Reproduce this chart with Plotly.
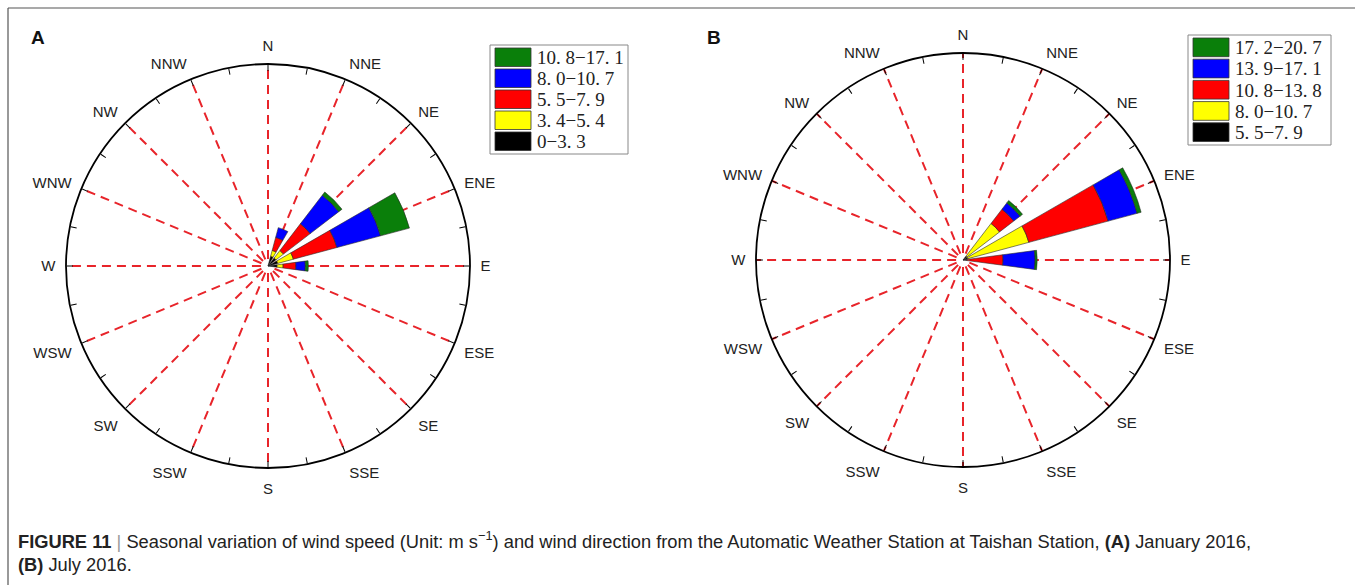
import plotly.graph_objects as go

W, H = 1355, 585

# ---------------- data ----------------
directions = ["N", "NNE", "NE", "ENE", "E", "ESE", "SE", "SSE",
              "S", "SSW", "SW", "WSW", "W", "WNW", "NW", "NNW"]

# Panel A: January 2016 - frequency (%) by direction and speed class
a_dirs = ["NNE", "NE", "ENE", "E"]
a_labels = ["0-3.3", "3.4-5.4", "5.5-7.9", "8.0-10.7", "10.8-17.1"]
a_c1 = [3.0, 3.0, 3.0, 2.7]      # 0-3.3
a_c2 = [1.8, 2.8, 4.8, 1.8]      # 3.4-5.4
a_c3 = [4.0, 10.0, 13.4, 3.8]    # 5.5-7.9
a_c4 = [3.0, 10.7, 13.4, 2.8]    # 8.0-10.7
a_c5 = [0.0, 1.2, 8.9, 0.9]      # 10.8-17.1

# Panel B: July 2016
b_dirs = ["NE", "ENE", "E"]
b_labels = ["5.5-7.9", "8.0-10.7", "10.8-13.8", "13.9-17.1", "17.2-20.7"]
b_c1 = [1.45, 1.45, 1.2]         # 5.5-7.9
b_c2 = [11.9, 18.3, 0.0]         # 8.0-10.7
b_c3 = [5.2, 23.8, 10.4]         # 10.8-13.8
b_c4 = [2.3, 8.7, 9.3]           # 13.9-17.1
b_c5 = [0.9, 1.2, 0.6]           # 17.2-20.7

RMAX = 60  # outer circle, %

colors = ["#000000", "#ffff00", "#ff0000", "#0000ff", "#0a7f0a"]

caption_1 = ("<b>FIGURE 11</b> <span style='color:#999'>|</span> Seasonal variation of wind speed "
             "(Unit: m s<sup>\u22121</sup>) and wind direction from the Automatic Weather "
             "Station at Taishan Station, <b>(A)</b> January 2016,")
caption_2 = "<b>(B)</b> July 2016."

# --------------------------------------
def ang(d):
    return directions.index(d) * 22.5

LABEL_PAD = 10  # px: label ring is slightly bigger than the circle

fig = go.Figure()

def add_grid(sub, r0):
    rr, tt = [], []
    for i in range(len(directions)):
        rr += [r0, RMAX, None]
        tt += [i * 22.5, i * 22.5, None]
    fig.add_trace(go.Scatterpolar(r=rr, theta=tt, mode="lines", subplot=sub,
                                  line=dict(color="#e8242a", width=2, dash="9px,6px"),
                                  showlegend=False, hoverinfo="skip"))

def add_bars(sub, dirs, classes, labels):
    th = [ang(d) for d in dirs]
    for vals, lab, col in zip(classes, labels, colors):
        fig.add_trace(go.Barpolar(r=vals, theta=th, width=[15] * len(th), name=lab,
                                  subplot=sub,
                                  marker=dict(color=col, line=dict(color="#2a2a2a", width=0.6)),
                                  showlegend=False))

add_grid("polar", 2.1)
add_grid("polar2", 2.0)
add_bars("polar3", a_dirs, [a_c1, a_c2, a_c3, a_c4, a_c5], a_labels)
add_bars("polar4", b_dirs, [b_c1, b_c2, b_c3, b_c4, b_c5], b_labels)

def dom(cx, cy, rad):
    return dict(x=[(cx - rad) / W, (cx + rad) / W],
                y=[1 - (cy + rad) / H, 1 - (cy - rad) / H])

def grid_layout(cx, cy, rad):
    # lower layer: dashed direction lines + direction labels (slightly larger ring)
    R = rad + LABEL_PAD
    return dict(
        domain=dom(cx, cy, R),
        bgcolor="white",
        radialaxis=dict(visible=False, range=[0, RMAX * R / rad]),
        angularaxis=dict(rotation=90, direction="clockwise", tickmode="array",
                         tickvals=[i * 22.5 for i in range(16)], ticktext=directions,
                         ticks="", showline=False, showgrid=False,
                         tickfont=dict(family="Liberation Sans, Arial", size=15, color="#222")),
    )

def bar_layout(cx, cy, rad):
    return dict(
        domain=dom(cx, cy, rad),
        bgcolor="rgba(0,0,0,0)",
        barmode="stack",
        radialaxis=dict(visible=False, range=[0, RMAX]),
        angularaxis=dict(rotation=90, direction="clockwise", tickmode="array",
                         tickvals=[i * 11.25 for i in range(32)],
                         showticklabels=False,
                         ticks="inside", ticklen=6, tickwidth=1.3, tickcolor="black",
                         showline=True, linecolor="black", linewidth=1.8, showgrid=False),
    )

shapes = [
    dict(type="line", xref="paper", yref="paper", x0=8 / W, x1=1.0, y0=1 - 8 / H, y1=1 - 8 / H,
         line=dict(color="#555", width=1.2)),
    dict(type="line", xref="paper", yref="paper", x0=8 / W, x1=8 / W, y0=0, y1=1 - 8 / H,
         line=dict(color="#555", width=1.2)),
]
annotations = []

def add_legend(x0, y0, x1, y1, labels):
    shapes.append(dict(type="rect", xref="paper", yref="paper", x0=x0 / W, x1=x1 / W,
                       y0=1 - y1 / H, y1=1 - y0 / H, line=dict(color="#888", width=1),
                       fillcolor="white", layer="above"))
    n = len(labels)
    step = (y1 - y0 - 4) / n
    for i in range(n):
        k = n - 1 - i  # top row is highest class
        top = y0 + 3 + i * step
        shapes.append(dict(type="rect", xref="paper", yref="paper",
                           x0=(x0 + 5) / W, x1=(x0 + 41) / W,
                           y0=1 - (top + step - 2.5) / H, y1=1 - top / H,
                           fillcolor=colors[k], line=dict(color="#333", width=0.8), layer="above"))
        annotations.append(dict(xref="paper", yref="paper", x=(x0 + 45) / W,
                                y=1 - (top + step / 2 - 1) / H, xanchor="left", yanchor="middle",
                                text=labels[k].replace(".", ". ").replace("-", "\u2212"),
                                showarrow=False,
                                font=dict(family="Liberation Serif", size=19, color="#222")))

add_legend(490, 45, 628, 154, a_labels)
add_legend(1188, 35, 1331, 145, b_labels)

annotations += [
    dict(xref="paper", yref="paper", x=29 / W, y=1 - 37 / H, xanchor="left", yanchor="middle",
         text="<b>A</b>", showarrow=False, font=dict(family="Liberation Sans, Arial", size=19, color="#111")),
    dict(xref="paper", yref="paper", x=705 / W, y=1 - 37 / H, xanchor="left", yanchor="middle",
         text="<b>B</b>", showarrow=False, font=dict(family="Liberation Sans, Arial", size=19, color="#111")),
    dict(xref="paper", yref="paper", x=16 / W, y=1 - 540 / H, xanchor="left", yanchor="middle",
         text=caption_1, showarrow=False, font=dict(family="Liberation Sans, Arial", size=18.3, color="#222")),
    dict(xref="paper", yref="paper", x=16 / W, y=1 - 564 / H, xanchor="left", yanchor="middle",
         text=caption_2, showarrow=False, font=dict(family="Liberation Sans, Arial", size=18.3, color="#222")),
]

fig.update_layout(
    width=W, height=H, margin=dict(l=0, r=0, t=0, b=0),
    paper_bgcolor="white", plot_bgcolor="white",
    polar=grid_layout(268, 266, 202),
    polar2=grid_layout(963, 260, 207),
    polar3=bar_layout(268, 266, 202),
    polar4=bar_layout(963, 260, 207),
    shapes=shapes, annotations=annotations, showlegend=False,
)

fig.write_html("out.html", config={"displayModeBar": False},
               post_script="document.body.style.margin='0px';")
